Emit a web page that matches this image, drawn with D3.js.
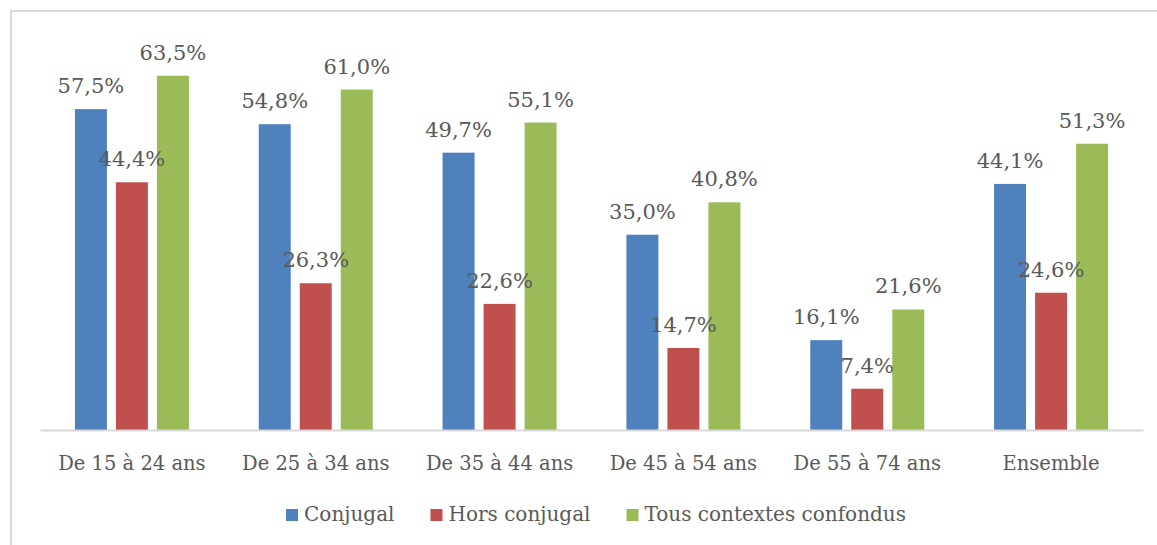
<!DOCTYPE html>
<html>
<head>
<meta charset="utf-8">
<script src="https://cdn.jsdelivr.net/npm/d3@7"></script>
<style>
  body { margin: 0; background: #fff; }
  svg { display: block; }
</style>
</head>
<body>
<svg id="chart"></svg>
<script>
// data
const categories = ["De 15 à 24 ans", "De 25 à 34 ans", "De 35 à 44 ans", "De 45 à 54 ans", "De 55 à 74 ans", "Ensemble"];
const seriesNames = ["Conjugal", "Hors conjugal", "Tous contextes confondus"];
const conjugal = [57.5, 54.8, 49.7, 35.0, 16.1, 44.1];
const horsConjugal = [44.4, 26.3, 22.6, 14.7, 7.4, 24.6];
const tousContextes = [63.5, 61.0, 55.1, 40.8, 21.6, 51.3];
const colors = ["#4f81bd", "#c0504d", "#9bbb59"];

const width = 1157, height = 545;
const svg = d3.select("#chart").attr("width", width).attr("height", height);
const font = "'DejaVu Serif', serif";
const textColor = "#595959";

// frame (only top and left edges visible)
svg.append("path")
  .attr("d", `M11,${height} L11,11 L${width},11`)
  .attr("fill", "none")
  .attr("stroke", "#d9d9d9")
  .attr("stroke-width", 2);

const series = [conjugal, horsConjugal, tousContextes];
const rows = categories.map((c, i) => ({ cat: c, values: series.map((s) => s[i]) }));

const groupW = 114;
const x = d3.scaleBand().domain(categories).range([40, 1143]);
const x1 = d3.scaleBand().domain(d3.range(3)).range([0, groupW]).paddingInner(0.22);
const y = d3.scaleLinear().domain([0, 70]).range([430, 39.4]);

// bars
const groups = svg.selectAll(".grp")
  .data(rows)
  .join("g")
  .attr("class", "grp")
  .attr("transform", (d) => `translate(${x(d.cat) + (x.bandwidth() - groupW) / 2},0)`);

groups.selectAll("rect")
  .data((d) => d.values)
  .join("rect")
  .attr("x", (d, i) => x1(i))
  .attr("y", (d) => y(d))
  .attr("width", x1.bandwidth())
  .attr("height", (d) => y(0) - y(d))
  .attr("fill", (d, i) => colors[i]);

// value labels
groups.selectAll("text")
  .data((d) => d.values)
  .join("text")
  .attr("x", (d, i) => x1(i) + x1.bandwidth() / 2)
  .attr("y", (d) => y(d) - 16)
  .attr("text-anchor", "middle")
  .attr("font-family", font)
  .attr("font-size", 21)
  .attr("fill", textColor)
  .text((d) => d.toFixed(1).replace(".", ",") + "%");

// axis
const xAxis = svg.append("g")
  .attr("transform", "translate(0,430)")
  .call(d3.axisBottom(x).tickSize(0).tickPadding(0));
xAxis.select(".domain").attr("stroke", "#d9d9d9").attr("stroke-width", 2);
xAxis.selectAll("text")
  .attr("dy", null)
  .attr("y", 40)
  .attr("font-family", font)
  .attr("font-size", 19.5)
  .attr("fill", textColor);

// legend
const legend = svg.append("g");
const items = legend.selectAll("g")
  .data(seriesNames)
  .join("g");
items.append("rect")
  .attr("y", 509)
  .attr("width", 12)
  .attr("height", 12)
  .attr("fill", (d, i) => colors[i]);
items.append("text")
  .attr("x", 18)
  .attr("y", 521)
  .attr("font-family", font)
  .attr("font-size", 20)
  .attr("fill", textColor)
  .text((d) => d);

let pos = 0;
const offsets = [];
items.each(function () {
  offsets.push(pos);
  pos += 18 + this.querySelector("text").getComputedTextLength() + 36;
});
const total = pos - 36;
const start = 596 - total / 2;
items.attr("transform", (d, i) => `translate(${start + offsets[i]},0)`);
</script>
</body>
</html>
